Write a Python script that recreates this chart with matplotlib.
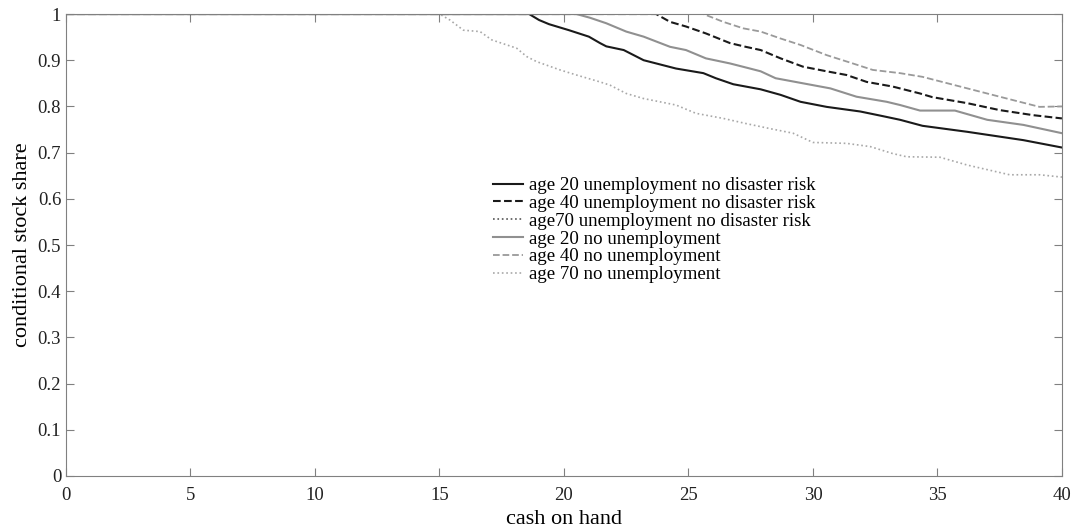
import matplotlib
matplotlib.use('Agg')
import matplotlib.pyplot as plt
import numpy as np

# valores (cash on hand, conditional stock share)
x_a20_u = [0, 18.6, 19.0, 19.4, 20.2, 21.0, 21.45, 21.7, 22.4, 23.2, 24.5, 25.6, 26.1, 26.8, 27.9,
           28.7, 29.5, 30.55, 31.9, 32.8, 33.5, 34.4, 36.2, 38.45, 40]
y_a20_u = [1, 1, 0.987, 0.978, 0.965, 0.951, 0.937, 0.930, 0.922, 0.900, 0.882, 0.872, 0.861, 0.848, 0.837,
           0.825, 0.810, 0.799, 0.789, 0.779, 0.771, 0.758, 0.745, 0.727, 0.711]

x_a40_u = [0, 23.7, 24.26, 24.9, 25.7, 26.67, 27.3, 27.9, 28.7, 29.6, 30.55, 31.35, 32.16, 33.2, 34.3,
           34.8, 36.2, 37.5, 38.85, 40]
y_a40_u = [1, 1, 0.983, 0.973, 0.958, 0.937, 0.929, 0.922, 0.904, 0.886, 0.876, 0.868, 0.853, 0.843, 0.828,
           0.820, 0.807, 0.792, 0.781, 0.774]

x_a70_u = [0, 15, 40]
y_a70_u = [1, 1, 1]

x_a20_n = [0, 20.5, 21.04, 21.7, 22.5, 23.2, 24.26, 24.9, 25.7, 26.67, 27.47, 27.9, 28.5, 29.6, 30.7,
           31.75, 32.96, 33.5, 34.3, 35.7, 37.0, 38.45, 40]
y_a20_n = [1, 1, 0.992, 0.980, 0.962, 0.951, 0.929, 0.922, 0.904, 0.893, 0.882, 0.876, 0.861, 0.850, 0.839,
           0.821, 0.810, 0.803, 0.791, 0.791, 0.771, 0.760, 0.742]

x_a40_n = [0, 25.6, 26.4, 27.2, 27.9, 28.7, 29.5, 30.55, 31.6, 32.4, 33.5, 34.4, 36.2, 37.5, 39.1, 40]
y_a40_n = [1, 1, 0.983, 0.969, 0.962, 0.947, 0.933, 0.911, 0.893, 0.879, 0.872, 0.864, 0.839, 0.821, 0.799, 0.80]

x_a70_n = [0, 15, 15.42, 15.96, 16.63, 17.1, 18.1, 18.5, 18.9, 19.84, 20.5, 21.45, 21.85, 22.5, 23.2,
           24.5, 25.3, 26.4, 27.3, 28.27, 29.2, 30.0, 31.35, 32.3, 33.2, 33.76, 35.1, 36.2, 37.9, 39.1, 40]
y_a70_n = [1, 1, 0.987, 0.965, 0.962, 0.944, 0.926, 0.908, 0.897, 0.879, 0.868, 0.853, 0.846, 0.828, 0.817,
           0.803, 0.785, 0.774, 0.763, 0.752, 0.742, 0.722, 0.720, 0.713, 0.698, 0.691, 0.690, 0.673, 0.652,
           0.652, 0.647]

etiquetas = ['age 20 unemployment no disaster risk',
             'age 40 unemployment no disaster risk',
             'age70 unemployment no disaster risk',
             'age 20 no unemployment',
             'age 40 no unemployment',
             'age 70 no unemployment']

yticks = [0, 0.1, 0.2, 0.3, 0.4, 0.5, 0.6, 0.7, 0.8, 0.9, 1]
ytick_labels = ['0', '0.1', '0.2', '0.3', '0.4', '0.5', '0.6', '0.7', '0.8', '0.9', '1']
xticks = [0, 5, 10, 15, 20, 25, 30, 35, 40]

plt.rcParams['font.family'] = ['Liberation Serif', 'DejaVu Serif']

fig = plt.figure(figsize=(10.73, 5.27), dpi=100)
ax = fig.add_axes([0.0615, 0.0968, 0.9282, 0.8766])

ax.plot(x_a20_u, y_a20_u, '-', color='#1a1a1a', lw=1.5, label=etiquetas[0])
ax.plot(x_a40_u, y_a40_u, '--', color='#1a1a1a', lw=1.5, label=etiquetas[1])
ax.plot(x_a70_u, y_a70_u, ':', color='#555555', lw=1.2, label=etiquetas[2])
ax.plot(x_a20_n, y_a20_n, '-', color='#909090', lw=1.5, label=etiquetas[3])
ax.plot(x_a40_n, y_a40_n, '--', color='#9a9a9a', lw=1.3, label=etiquetas[4])
ax.plot(x_a70_n, y_a70_n, ':', color='#a8a8a8', lw=1.2, label=etiquetas[5])

ax.set_xlim(0, 40)
ax.set_ylim(0, 1)
ax.set_xticks(xticks)
ax.set_yticks(yticks)
ax.set_yticklabels(ytick_labels)

for s in ax.spines.values():
    s.set_color('#808080')
ax.tick_params(direction='in', length=6, color='#808080', top=True, right=True,
               labelsize=13.5, labelcolor='#222222')
ax.tick_params(axis='x', pad=8)

ax.set_xlabel('cash on hand', fontsize=16, labelpad=4)
ax.set_ylabel('conditional stock share', fontsize=16, labelpad=4)

ax.legend(loc='upper left', bbox_to_anchor=(0.4287, 0.647), frameon=False, fontsize=13.6,
          borderpad=0, borderaxespad=0, labelspacing=0.03, handlelength=1.6, handletextpad=0.3)

plt.savefig('out.png', dpi=100)
